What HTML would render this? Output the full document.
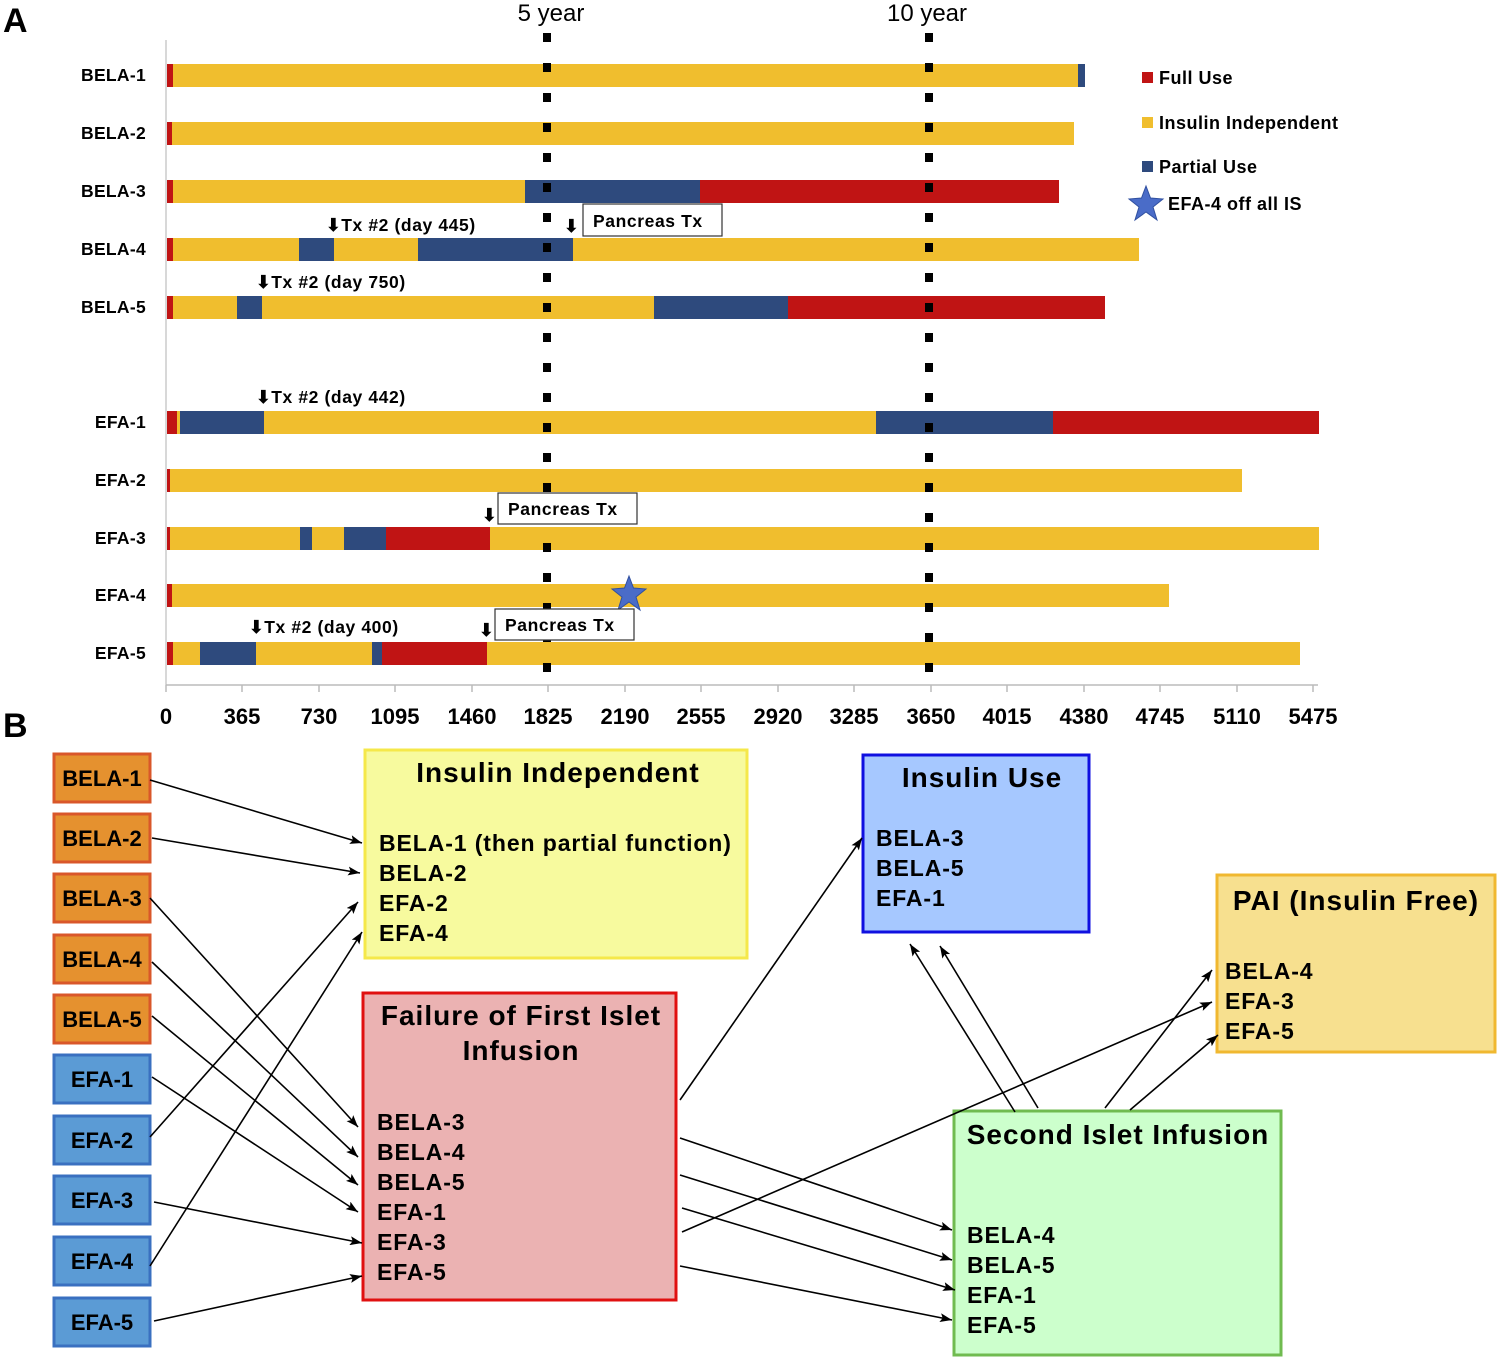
<!DOCTYPE html>
<html><head><meta charset="utf-8"><style>body{margin:0;background:#fff}svg{display:block}text{font-family:"Liberation Sans",Arial,sans-serif}</style></head>
<body>
<svg width="1500" height="1360" viewBox="0 0 1500 1360" xmlns="http://www.w3.org/2000/svg">
<defs><marker id="ah" markerWidth="12" markerHeight="9" refX="12" refY="4.5" orient="auto" markerUnits="userSpaceOnUse"><path d="M0,0 L12,4.5 L0,9 L2.5,4.5 z" fill="#000"/></marker></defs>
<text x="3" y="32" font-size="34" font-weight="bold">A</text>
<text x="3" y="737" font-size="34" font-weight="bold">B</text>
<text x="551" y="21" font-size="24" text-anchor="middle">5 year</text>
<text x="927" y="21" font-size="24" text-anchor="middle">10 year</text>
<!-- axes -->
<line x1="166" y1="40" x2="166" y2="685" stroke="#ccc" stroke-width="1.5"/>
<line x1="166" y1="685" x2="1318" y2="685" stroke="#bbb" stroke-width="1.5"/>
<g stroke="#bbb" stroke-width="1.5">
<line x1="166" y1="685" x2="166" y2="692"/><line x1="242" y1="685" x2="242" y2="692"/><line x1="319" y1="685" x2="319" y2="692"/><line x1="395" y1="685" x2="395" y2="692"/><line x1="472" y1="685" x2="472" y2="692"/><line x1="548" y1="685" x2="548" y2="692"/><line x1="625" y1="685" x2="625" y2="692"/><line x1="701" y1="685" x2="701" y2="692"/><line x1="778" y1="685" x2="778" y2="692"/><line x1="854" y1="685" x2="854" y2="692"/><line x1="931" y1="685" x2="931" y2="692"/><line x1="1007" y1="685" x2="1007" y2="692"/><line x1="1084" y1="685" x2="1084" y2="692"/><line x1="1160" y1="685" x2="1160" y2="692"/><line x1="1237" y1="685" x2="1237" y2="692"/><line x1="1313" y1="685" x2="1313" y2="692"/>
</g>
<g font-size="22" font-weight="bold" text-anchor="middle">
<text x="166" y="724">0</text><text x="242" y="724">365</text><text x="319" y="724">730</text><text x="395" y="724">1095</text><text x="472" y="724">1460</text><text x="548" y="724">1825</text><text x="625" y="724">2190</text><text x="701" y="724">2555</text><text x="778" y="724">2920</text><text x="854" y="724">3285</text><text x="931" y="724">3650</text><text x="1007" y="724">4015</text><text x="1084" y="724">4380</text><text x="1160" y="724">4745</text><text x="1237" y="724">5110</text><text x="1313" y="724">5475</text>
</g>
<g font-size="17.5" font-weight="bold" text-anchor="end" letter-spacing="0.3">
<text x="146" y="81">BELA-1</text><text x="146" y="139">BELA-2</text><text x="146" y="197">BELA-3</text><text x="146" y="255">BELA-4</text><text x="146" y="313">BELA-5</text>
<text x="146" y="428">EFA-1</text><text x="146" y="486">EFA-2</text><text x="146" y="544">EFA-3</text><text x="146" y="601">EFA-4</text><text x="146" y="659">EFA-5</text>
</g>
<!-- bars -->
<g>
<rect x="167" y="64" width="6" height="23" fill="#C01414"/><rect x="173" y="64" width="905" height="23" fill="#F0BE2E"/><rect x="1078" y="64" width="7" height="23" fill="#2E4A7D"/>
<rect x="167" y="122" width="5" height="23" fill="#C01414"/><rect x="172" y="122" width="902" height="23" fill="#F0BE2E"/>
<rect x="167" y="180" width="6" height="23" fill="#C01414"/><rect x="173" y="180" width="352" height="23" fill="#F0BE2E"/><rect x="525" y="180" width="175" height="23" fill="#2E4A7D"/><rect x="700" y="180" width="359" height="23" fill="#C01414"/>
<rect x="167" y="238" width="6" height="23" fill="#C01414"/><rect x="173" y="238" width="126" height="23" fill="#F0BE2E"/><rect x="299" y="238" width="35" height="23" fill="#2E4A7D"/><rect x="334" y="238" width="84" height="23" fill="#F0BE2E"/><rect x="418" y="238" width="155" height="23" fill="#2E4A7D"/><rect x="573" y="238" width="566" height="23" fill="#F0BE2E"/>
<rect x="167" y="296" width="6" height="23" fill="#C01414"/><rect x="173" y="296" width="64" height="23" fill="#F0BE2E"/><rect x="237" y="296" width="25" height="23" fill="#2E4A7D"/><rect x="262" y="296" width="392" height="23" fill="#F0BE2E"/><rect x="654" y="296" width="134" height="23" fill="#2E4A7D"/><rect x="788" y="296" width="317" height="23" fill="#C01414"/>
<rect x="167" y="411" width="10" height="23" fill="#C01414"/><rect x="177" y="411" width="3" height="23" fill="#F0BE2E"/><rect x="180" y="411" width="84" height="23" fill="#2E4A7D"/><rect x="264" y="411" width="612" height="23" fill="#F0BE2E"/><rect x="876" y="411" width="177" height="23" fill="#2E4A7D"/><rect x="1053" y="411" width="266" height="23" fill="#C01414"/>
<rect x="167" y="469" width="3" height="23" fill="#C01414"/><rect x="170" y="469" width="1072" height="23" fill="#F0BE2E"/>
<rect x="167" y="527" width="3" height="23" fill="#C01414"/><rect x="170" y="527" width="130" height="23" fill="#F0BE2E"/><rect x="300" y="527" width="12" height="23" fill="#2E4A7D"/><rect x="312" y="527" width="32" height="23" fill="#F0BE2E"/><rect x="344" y="527" width="42" height="23" fill="#2E4A7D"/><rect x="386" y="527" width="104" height="23" fill="#C01414"/><rect x="490" y="527" width="829" height="23" fill="#F0BE2E"/>
<rect x="167" y="584" width="5" height="23" fill="#C01414"/><rect x="172" y="584" width="997" height="23" fill="#F0BE2E"/>
<rect x="167" y="642" width="6" height="23" fill="#C01414"/><rect x="173" y="642" width="27" height="23" fill="#F0BE2E"/><rect x="200" y="642" width="56" height="23" fill="#2E4A7D"/><rect x="256" y="642" width="116" height="23" fill="#F0BE2E"/><rect x="372" y="642" width="10" height="23" fill="#2E4A7D"/><rect x="382" y="642" width="105" height="23" fill="#C01414"/><rect x="487" y="642" width="813" height="23" fill="#F0BE2E"/>
</g>
<!-- dotted lines -->
<line x1="547" y1="33" x2="547" y2="682" stroke="#000" stroke-width="8" stroke-dasharray="9 21"/>
<line x1="929" y1="33" x2="929" y2="682" stroke="#000" stroke-width="8" stroke-dasharray="9 21"/>
<!-- star -->
<polygon points="629,576 633.5,588 646,589 636,597 640,610 629,602 618,610 622,597 612,589 624.5,588" fill="#4A6CC8" stroke="#3050A0" stroke-width="1"/>
<!-- annotations -->
<g font-size="17.5" font-weight="bold" letter-spacing="0.6">
<text x="326" y="231">⬇Tx #2 (day 445)</text>
<text x="256" y="288">⬇Tx #2 (day 750)</text>
<text x="256" y="403">⬇Tx #2 (day 442)</text>
<text x="249" y="633">⬇Tx #2 (day 400)</text>
<text x="564" y="232">⬇</text><text x="482" y="521">⬇</text><text x="479" y="636">⬇</text>
</g>
<g fill="#fff" stroke="#333" stroke-width="1.2"><rect x="583" y="204" width="139" height="32"/><rect x="498" y="493" width="139" height="31"/><rect x="495" y="609" width="139" height="31"/></g>
<g font-size="17.5" font-weight="bold" letter-spacing="0.6"><text x="593" y="227">Pancreas Tx</text><text x="508" y="515">Pancreas Tx</text><text x="505" y="631">Pancreas Tx</text></g>
<!-- legend -->
<rect x="1142" y="72" width="11" height="11" fill="#C01414"/><rect x="1142" y="117" width="11" height="11" fill="#F0BE2E"/><rect x="1142" y="161" width="11" height="11" fill="#2E4A7D"/>
<polygon points="1146,186 1150.5,198 1163,199 1153,207 1157,220 1146,212 1135,220 1139,207 1129,199 1141.5,198" fill="#4A6CC8" stroke="#3050A0"/>
<g font-size="18" font-weight="bold" letter-spacing="0.5"><text x="1159" y="84">Full Use</text><text x="1159" y="129">Insulin Independent</text><text x="1159" y="173">Partial Use</text><text x="1168" y="210">EFA-4 off all IS</text></g>
<!-- part B boxes -->
<g stroke="#D9572A" stroke-width="3" fill="#E5912F">
<rect x="54" y="754" width="96" height="48"/><rect x="54" y="814" width="96" height="48"/><rect x="54" y="874" width="96" height="48"/><rect x="54" y="935" width="96" height="48"/><rect x="54" y="995" width="96" height="48"/>
</g>
<g stroke="#3A70C0" stroke-width="3" fill="#5B9BD5">
<rect x="54" y="1055" width="96" height="48"/><rect x="54" y="1116" width="96" height="48"/><rect x="54" y="1176" width="96" height="48"/><rect x="54" y="1237" width="96" height="48"/><rect x="54" y="1298" width="96" height="48"/>
</g>
<g font-size="22" font-weight="bold" text-anchor="middle">
<text x="102" y="786">BELA-1</text><text x="102" y="846">BELA-2</text><text x="102" y="906">BELA-3</text><text x="102" y="967">BELA-4</text><text x="102" y="1027">BELA-5</text>
<text x="102" y="1087">EFA-1</text><text x="102" y="1148">EFA-2</text><text x="102" y="1208">EFA-3</text><text x="102" y="1269">EFA-4</text><text x="102" y="1330">EFA-5</text>
</g>
<rect x="365" y="750" width="382" height="208" fill="#F7FA9E" stroke="#F5E84A" stroke-width="3"/>
<rect x="863" y="755" width="226" height="177" fill="#A6C8FF" stroke="#1010E0" stroke-width="3"/>
<rect x="1217" y="875" width="278" height="177" fill="#F7E08F" stroke="#F0B830" stroke-width="3"/>
<rect x="363" y="993" width="313" height="307" fill="#EBB2B2" stroke="#E01010" stroke-width="3"/>
<rect x="954" y="1111" width="327" height="244" fill="#CCFFCC" stroke="#70BB50" stroke-width="3"/>
<g font-size="28" font-weight="bold" text-anchor="middle" letter-spacing="1">
<text x="558" y="782">Insulin Independent</text>
<text x="982" y="787">Insulin Use</text>
<text x="1356" y="910">PAI (Insulin Free)</text>
<text x="521" y="1025">Failure of First Islet</text><text x="521" y="1060">Infusion</text>
<text x="1118" y="1144">Second Islet Infusion</text>
</g>
<g font-size="23" font-weight="bold" letter-spacing="0.9">
<text x="379" y="851">BELA-1 (then partial function)</text><text x="379" y="881">BELA-2</text><text x="379" y="911">EFA-2</text><text x="379" y="941">EFA-4</text>
<text x="876" y="846">BELA-3</text><text x="876" y="876">BELA-5</text><text x="876" y="906">EFA-1</text>
<text x="1225" y="979">BELA-4</text><text x="1225" y="1009">EFA-3</text><text x="1225" y="1039">EFA-5</text>
<text x="377" y="1130">BELA-3</text><text x="377" y="1160">BELA-4</text><text x="377" y="1190">BELA-5</text><text x="377" y="1220">EFA-1</text><text x="377" y="1250">EFA-3</text><text x="377" y="1280">EFA-5</text>
<text x="967" y="1243">BELA-4</text><text x="967" y="1273">BELA-5</text><text x="967" y="1303">EFA-1</text><text x="967" y="1333">EFA-5</text>
</g>
<!-- arrows -->
<g stroke="#000" stroke-width="1.6" marker-end="url(#ah)">
<line x1="150" y1="780" x2="362" y2="843"/>
<line x1="152" y1="838" x2="360" y2="873"/>
<line x1="150" y1="898" x2="358" y2="1127"/>
<line x1="152" y1="962" x2="358" y2="1157"/>
<line x1="152" y1="1016" x2="358" y2="1185"/>
<line x1="152" y1="1077" x2="358" y2="1212"/>
<line x1="150" y1="1137" x2="358" y2="902"/>
<line x1="154" y1="1202" x2="362" y2="1243"/>
<line x1="150" y1="1266" x2="362" y2="932"/>
<line x1="154" y1="1321" x2="362" y2="1276"/>
<line x1="680" y1="1100" x2="862" y2="838"/>
<line x1="680" y1="1138" x2="952" y2="1230"/>
<line x1="680" y1="1175" x2="952" y2="1260"/>
<line x1="682" y1="1208" x2="955" y2="1290"/>
<line x1="680" y1="1266" x2="952" y2="1320"/>
<line x1="682" y1="1232" x2="1212" y2="1002"/>
<line x1="1015" y1="1112" x2="910" y2="944"/>
<line x1="1038" y1="1108" x2="940" y2="946"/>
<line x1="1105" y1="1108" x2="1212" y2="970"/>
<line x1="1130" y1="1110" x2="1218" y2="1035"/>
</g>
</svg>
</body></html>
